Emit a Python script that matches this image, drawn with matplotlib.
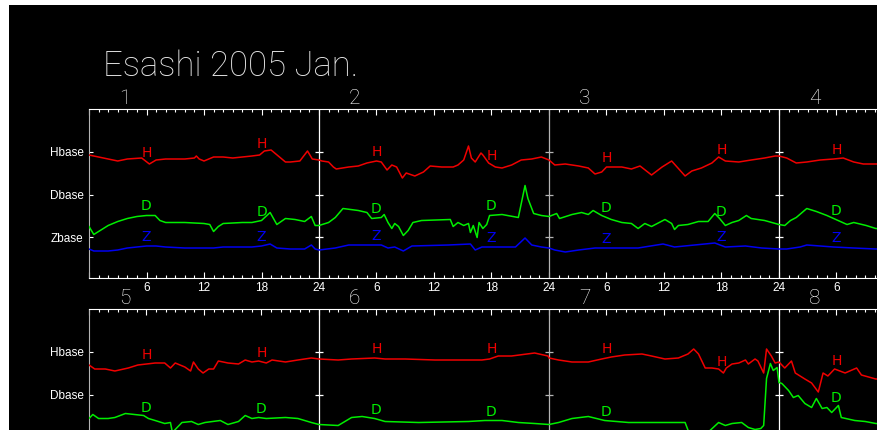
import numpy as np
import matplotlib
matplotlib.use("Agg")
import matplotlib.pyplot as plt
from matplotlib.ticker import MultipleLocator, FuncFormatter
from matplotlib.patches import Rectangle
from matplotlib import font_manager as fm

# ---------------- data (hours since 2005-01-01 00:00, offsets from base) -------------
H_t = [0, 1, 2, 3, 4, 5.5, 6.3, 7, 8, 10, 11, 11.2, 11.5, 12, 13, 14, 15, 16, 17, 17.8, 18.3, 19, 20, 20.5, 21, 22, 22.8, 23.3, 24,
       24.3, 25, 25.5, 25.8, 27.1, 28.1, 29, 30, 30.5, 31.1, 31.6, 32.1, 32.7, 33.1, 34, 34.9, 35.6, 36.8, 38, 38.5, 39.1, 39.6, 39.9, 40.3, 40.9, 41.1, 41.7, 42.4, 43.1, 44.1, 45.1, 46.2, 47.2, 48,
       48.6, 49.7, 51.1, 52.1, 52.8, 53.5, 54, 55.6, 56.6, 57.5, 58.7, 59.8, 60.8, 62.2, 62.9, 63.9, 65, 65.7, 66.4, 67.8, 69.1, 70.5, 71.6, 72,
       72.8, 73.8, 74.9, 76.3, 77.7, 78.7, 79.8, 80.8, 82.1, 84,
       96, 96.6, 97.7, 98.7, 100.1, 101.1, 102, 102.9, 103.9, 104.5, 105, 106, 106.6, 106.9, 107.4, 107.9, 108.5, 109, 109.5, 110.5, 111.6, 112.3, 113, 113.7, 114.5, 115.1, 116.5, 117.8, 119.2, 120,
       122, 123.4, 125.8, 126.9, 129, 132.1, 137, 137.8, 138.7, 140.1, 142.5, 143.9,
       144, 145, 146.4, 148.1, 149.5, 150.5, 151.9, 153.7, 154.7, 156.1, 157.5, 158.5, 159.1, 159.6, 160.3, 161, 161.7, 162.2, 162.5, 163.1, 163.8, 164.5, 164.8, 165.5, 165.8, 166.4, 166.7, 167.2, 167.6, 168,
       168.6, 169.3, 169.7, 170.7, 171.4, 172.1, 172.6, 173.1, 173.8, 174.9, 176.1, 176.6, 177.7, 178.1, 180]
H_v = [-3, -5, -7, -9, -7, -6, -12, -8, -7, -7, -6, -4, -7, -9, -5, -5, -6, -5, -4, -3, 1, 2, -6, -10, -10, -9, 1, -7, -8,
       -9, -10, -15, -17, -15, -14, -11, -9, -10, -18, -13, -15, -26, -21, -24, -20, -14, -15, -15, -13, -8, 6, -6, -10, -1, -3, -11, -15, -16, -13, -8, -7, -5, -8,
       -13, -12, -14, -16, -22, -20, -15, -15, -17, -14, -23, -15, -9, -24, -19, -16, -11, -5, -9, -10, -8, -6, -4, -4,
       -6, -11, -10, -8, -7, -6, -10, -12, -12, -12,
       -13, -17, -17, -19, -16, -13, -12, -11, -11, -16, -11, -15, -19, -10, -17, -21, -17, -17, -9, -11, -12, -8, -10, -9, -11, -8, -10, -8, -6, -7,
       -8, -7, -6, -7, -7, -8, -8, -7, -4, -4, -1, -4,
       -6, -8, -10, -10, -7, -5, -3, -2, -4, -7, -6, -2, 3, -2, -16, -16, -17, -21, -16, -12, -11, -8, -12, -7, -9, -21, 3, -4, -11, -10,
       -16, -9, -21, -27, -31, -40, -21, -24, -17, -21, -16, -23, -26, -27, -27]

D_t = [0, 0.5, 1, 2, 3, 4, 5, 6, 6.9, 7.4, 8, 10, 12, 12.6, 13, 13.5, 14, 16, 17, 18, 18.9, 19.6, 20.5, 21.5, 22.5, 23.2, 23.6, 24,
       25, 25.7, 26.5, 28.1, 29, 29.5, 30.5, 30.8, 31.2, 31.6, 31.9, 32.3, 32.8, 33.3, 33.8, 34.7, 37.7, 38, 38.5, 39.1, 39.6, 39.8, 40.1, 40.5, 40.7, 41.1, 41.5, 41.8, 43.1, 44.8, 45.5, 45.8, 46.4, 47.2, 48,
       48.8, 49.1, 50.4, 51.4, 52.1, 52.6, 53.5, 54.5, 55.6, 56.6, 57.3, 58, 58.7, 60.1, 60.8, 61.1, 61.5, 62.5, 63.6, 64.6, 65.3, 65.8, 66.4, 67.1, 67.8, 68.6, 69.1, 70.5, 72,
       72.6, 73.2, 73.8, 74.9, 75.9, 77, 78.4, 79.1, 79.8, 81.1, 82.1, 84,
       96, 96.4, 97, 98, 98.7, 99.8, 100.8, 101.7, 102.2, 102.9, 103.9, 104.5, 104.7, 105.7, 106.7, 107.4, 108.1, 109.7, 110.5, 111.6, 112.3, 113, 113.7, 114.5, 116.5, 117.8, 119.2, 120,
       122, 123.4, 124.5, 125.8, 126.9, 130.4, 135.6, 137.3, 139.1, 140.8, 142.5, 144,
       145, 146.4, 148.1, 149.8, 152.3, 157.5, 158.2, 158.6, 159, 160, 160.8, 161.7, 162.4, 163.1, 164.1, 164.8, 165.5, 166.1, 166.4, 166.7, 167.1, 167.4, 167.8, 168,
       168.3, 169, 169.5, 170, 170.7, 171.4, 171.9, 172.5, 173, 173.5, 174.2, 174.5, 175.9, 177, 178.1, 180]
D_v = [-32, -40, -37, -31, -27, -24, -22, -21, -21, -26, -28, -28, -29, -30, -37, -32, -29, -28, -28, -26, -18, -30, -24, -25, -27, -22, -31, -31,
       -28, -23, -14, -16, -18, -24, -23, -20, -28, -34, -29, -32, -41, -36, -28, -26, -25, -32, -28, -31, -29, -38, -31, -43, -28, -34, -30, -21, -20, -23, 9, -4, -19, -21, -22,
       -19, -24, -20, -18, -20, -16, -21, -25, -28, -29, -34, -29, -32, -25, -29, -35, -31, -30, -27, -27, -19, -24, -31, -28, -26, -21, -24, -26, -30,
       -31, -26, -23, -14, -17, -21, -27, -30, -28, -31, -34, -35,
       -24, -20, -24, -24, -23, -19, -20, -21, -24, -26, -29, -28, -38, -28, -27, -30, -28, -26, -30, -27, -21, -24, -23, -24, -23, -24, -28, -30,
       -31, -23, -22, -24, -27, -28, -27, -26, -26, -28, -29, -30,
       -28, -24, -22, -26, -28, -28, -28, -38, -55, -60, -36, -28, -31, -29, -28, -33, -35, -34, -31, 16, 31, 24, 27, 12,
       11, 4, -3, -1, -9, -13, -4, -14, -13, -18, -11, -23, -26, -27, -29, -30]

Z_t = [0, 0.5, 2, 3, 4, 5, 6, 7, 8, 10, 13, 14, 17, 18, 18.9, 19.6, 21, 22.5, 23.2, 23.6, 24,
       25.7, 27.1, 30.5, 31.2, 31.9, 32.8, 33.7, 37.5, 39.8, 40.3, 41, 44.5, 45.5, 46.2, 47.2, 48,
       48.6, 49.7, 51.1, 52.8, 54.5, 57.3, 59.9, 61.1, 63.2, 65.3, 66.4, 68.5, 70.2, 72,
       72.8, 74.2, 74.9, 77.7, 79.8, 82.1, 84,
       96, 120, 144, 168, 180]
Z_v = [-12, -14, -14, -13, -11, -10, -9, -9, -10, -11, -11, -10, -10, -9, -7, -11, -12, -12, -8, -12, -13,
       -11, -8, -8, -11, -10, -14, -9, -8, -7, -13, -10, -10, -1, -8, -10, -11,
       -13, -15, -13, -11, -11, -11, -7, -10, -8, -6, -10, -9, -11, -12,
       -12, -10, -8, -10, -11, -12, -12,
       -12, -12, -12, -12, -12]

series_names = ["H", "D", "Z"]
series_colors = ["#f00000", "#00ee00", "#0000f0"]
base_levels = [85.0, 42.5, 0.0]
base_labels = ["Hbase", "Dbase", "Zbase"]
row_days = [[1, 2, 3, 4], [5, 6, 7, 8]]
letter_hours = [6, 18]
title_text = "Esashi 2005 Jan."

# ---------------- fonts ----------------
names = {f.name for f in fm.fontManager.ttflist}
narrow = "Liberation Sans Narrow" if "Liberation Sans Narrow" in names else "DejaVu Sans"
reg = "Liberation Sans" if "Liberation Sans" in names else "DejaVu Sans"
thin = "Roboto" if "Roboto" in names else reg

W, Hpx = 877, 430
fig = plt.figure(figsize=(W / 100, Hpx / 100), dpi=100, facecolor="white")
fig.patches.append(Rectangle((9 / W, 0), 1 - 9 / W, 1 - 5 / Hpx, transform=fig.transFigure,
                             facecolor="black", edgecolor="none", zorder=-10))

left_px, day_px, h_px = 89, 230, 169
tops = [109, 309]
series = [(H_t, H_v), (D_t, D_v), (Z_t, Z_v)]
grey = "#b4b4b4"
YLO, YHI = -41, 128

for r, days in enumerate(row_days):
    top = tops[r]
    ax = fig.add_axes([left_px / W, (Hpx - top - h_px) / Hpx, 4 * day_px / W, h_px / Hpx])
    ax.set_facecolor("black")
    x0 = (days[0] - 1) * 24
    x1 = days[-1] * 24
    ax.set_xlim(x0, x1)
    ax.set_ylim(YLO, YHI)
    # visible limits inside the figure (axes run past the right/bottom edge)
    t_vis = x0 + (W - left_px) / day_px * 24
    y_vis = YHI - (Hpx - top)          # lowest data value still inside figure
    for s in ax.spines.values():
        s.set_color("white")
        s.set_linewidth(0.8)
    ax.spines["left"].set_color(grey)

    for (tt, vv), b, c in zip(series, base_levels, series_colors):
        ax.plot(tt, np.asarray(vv) + b, color=c, lw=1.1, zorder=3)

    # day boundaries
    for d in days[1:]:
        xb = (d - 1) * 24
        col = grey if d in (3, 7) else "white"
        ax.axvline(xb, color=col, lw=0.9, zorder=2)
        ax.plot([xb] * 3, base_levels, ls="none", marker="_", ms=6, mew=0.9, color=col, zorder=2)

    # letters
    for d in days:
        for hh in letter_hours:
            t = (d - 1) * 24 + hh
            if t > t_vis - 0.5:
                continue
            for (tt, vv), b, c, nm in zip(series, base_levels, series_colors, series_names):
                v = np.interp(t, tt, vv)
                yy = b + v + 2
                if yy < y_vis + 10:
                    continue
                ax.text(t, yy, nm, color=c, ha="center", va="bottom",
                        fontsize=10, family=narrow, clip_on=True, zorder=4)
        ax.text((d - 1) * 24 + 3.7, YHI + 0.8, str(d), color="white", ha="center", va="bottom",
                fontsize=15, family=thin, fontweight="light", clip_on=False)

    ax.xaxis.set_major_locator(MultipleLocator(6))
    ax.xaxis.set_minor_locator(MultipleLocator(1))
    ax.xaxis.set_major_formatter(FuncFormatter(
        lambda x, pos, x0=x0, tv=t_vis: "" if (x <= x0 + 0.01 or x > tv - 0.5)
        else str(int(round(x)) % 24 or 24)))
    ax.tick_params(axis="x", which="both", direction="in", top=True, bottom=True,
                   colors="white", width=0.8, labelbottom=(r == 0))
    ax.tick_params(axis="x", which="major", length=4.5, pad=3, labelsize=8.5)
    ax.tick_params(axis="x", which="minor", length=2.2)
    for lab in ax.get_xticklabels():
        lab.set_family(reg)

    ax.set_yticks(base_levels)
    ax.set_yticklabels(base_labels)
    ax.tick_params(axis="y", direction="in", length=3, width=0.8, colors="white",
                   labelsize=8.5, pad=4)
    for lab in ax.get_yticklabels():
        lab.set_family(reg)

fig.text(103 / W, 1 - 76 / Hpx, title_text, color="#e6e6e6", ha="left", va="baseline",
         fontsize=25, family=thin, fontweight="light")

fig.savefig("out.png", dpi=100, facecolor=fig.get_facecolor())
